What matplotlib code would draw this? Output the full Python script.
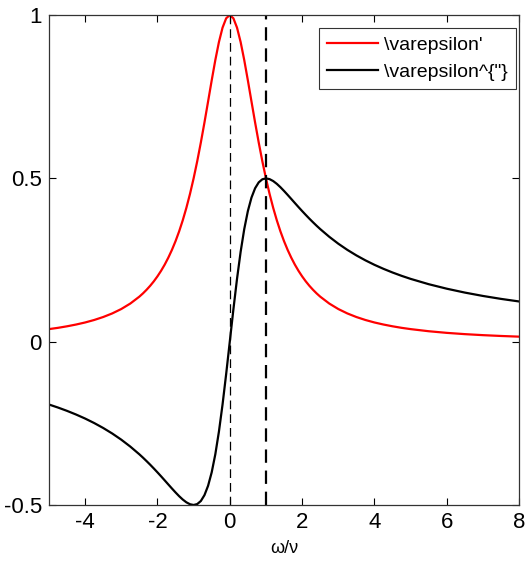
import matplotlib
matplotlib.use("Agg")
from matplotlib import pyplot as plt

plt.rcParams['font.family'] = ['Liberation Sans', 'DejaVu Sans']
plt.rcParams['axes.unicode_minus'] = False

# omega/nu sample points and values
x = [-5, -4.75, -4.5, -4.25, -4, -3.75, -3.5, -3.25, -3, -2.75, -2.5,
     -2.4, -2.3, -2.2, -2.1, -2.0, -1.9, -1.8, -1.7, -1.6, -1.5, -1.4, -1.3, -1.2, -1.1,
     -1.0, -0.9, -0.8, -0.7, -0.6, -0.5, -0.4, -0.3, -0.2, -0.1, 0,
     0.1, 0.2, 0.3, 0.4, 0.5, 0.6, 0.7, 0.8, 0.9, 1.0,
     1.1, 1.2, 1.3, 1.4, 1.5, 1.6, 1.7, 1.8, 1.9, 2.0, 2.1, 2.2, 2.3, 2.4, 2.5,
     2.75, 3, 3.25, 3.5, 3.75, 4, 4.25, 4.5, 4.75, 5, 5.5, 6, 6.5, 7, 7.5, 8]
eps_real = [0.0385, 0.0424, 0.0471, 0.0525, 0.0588, 0.0664, 0.0755, 0.0865, 0.1, 0.1168, 0.1379,
            0.1479, 0.159, 0.1712, 0.1848, 0.2, 0.2169, 0.2358, 0.2571, 0.2809, 0.3077,
            0.3378, 0.3717, 0.4098, 0.4525,
            0.5, 0.5525, 0.6098, 0.6711, 0.7353, 0.8, 0.8621, 0.9174, 0.9615, 0.9901, 1.0,
            0.9901, 0.9615, 0.9174, 0.8621, 0.8, 0.7353, 0.6711, 0.6098, 0.5525, 0.5,
            0.4525, 0.4098, 0.3717, 0.3378, 0.3077, 0.2809, 0.2571, 0.2358, 0.2169, 0.2,
            0.1848, 0.1712, 0.159, 0.1479, 0.1379,
            0.1168, 0.1, 0.0865, 0.0755, 0.0664, 0.0588, 0.0525, 0.0471, 0.0424, 0.0385,
            0.032, 0.027, 0.0231, 0.02, 0.0175, 0.0154]
eps_imag = [-0.1923, -0.2016, -0.2118, -0.223, -0.2353, -0.249, -0.2642, -0.2811, -0.3,
            -0.3212, -0.3448,
            -0.355, -0.3657, -0.3767, -0.3882, -0.4, -0.4121, -0.4245, -0.437, -0.4494,
            -0.4615, -0.473, -0.4833, -0.4918, -0.4977,
            -0.5, -0.4972, -0.4878, -0.4698, -0.4412, -0.4, -0.3448, -0.2752, -0.1923,
            -0.099, 0.0,
            0.099, 0.1923, 0.2752, 0.3448, 0.4, 0.4412, 0.4698, 0.4878, 0.4972, 0.5,
            0.4977, 0.4918, 0.4833, 0.473, 0.4615, 0.4494, 0.437, 0.4245, 0.4121, 0.4,
            0.3882, 0.3767, 0.3657, 0.355, 0.3448,
            0.3212, 0.3, 0.2811, 0.2642, 0.249, 0.2353, 0.223, 0.2118, 0.2016, 0.1923,
            0.176, 0.1622, 0.1503, 0.14, 0.131, 0.1231]
xticks = [-4, -2, 0, 2, 4, 6, 8]
yticks = [-0.5, 0, 0.5, 1]

fig = plt.figure(figsize=(5.26, 5.71), dpi=100)
ax = fig.add_axes([0.093, 0.1156, 0.894, 0.858])

ax.plot(x, eps_real, color='#ff0000', lw=1.6, label="\\varepsilon'")
ax.plot(x, eps_imag, color='black', lw=1.6, label='\\varepsilon^{"}')
ax.axvline(0, color='black', lw=0.9, ls=(0, (7, 4)))
ax.axvline(1, color='black', lw=1.6, ls=(0, (6, 3.5)))

ax.set_xlim(-5, 8)
ax.set_ylim(-0.5, 1)
ax.set_xticks(xticks)
ax.set_yticks(yticks)
ax.set_yticklabels(['-0.5', '0', '0.5', '1'])
ax.tick_params(direction='in', length=5, top=True, right=True, labelsize=16, pad=5)
for s in ax.spines.values():
    s.set_linewidth(0.9)
    s.set_color('#333333')
ax.set_xlabel('ω/ν', fontsize=13, labelpad=5)

leg = ax.legend(loc='upper right', fontsize=14, frameon=True, fancybox=False,
                edgecolor='black', handlelength=2.6, handletextpad=0.3,
                borderaxespad=0.15, borderpad=0.45, labelspacing=0.45,
                bbox_to_anchor=(1.0, 0.98))
leg.get_frame().set_linewidth(0.8)

fig.savefig('out.png', dpi=100)
